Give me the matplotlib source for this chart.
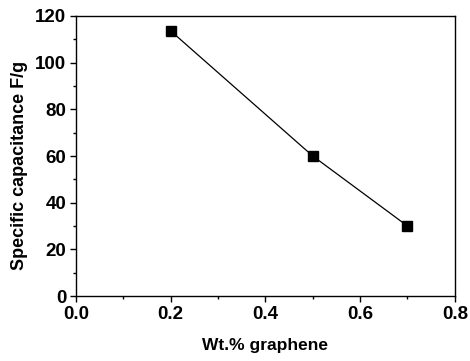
import matplotlib.pyplot as plt
from matplotlib.ticker import MultipleLocator

plt.rcParams['font.family'] = ['Liberation Sans', 'DejaVu Sans']
plt.rcParams['font.weight'] = 'bold'

# data
wt_graphene = [0.2, 0.5, 0.7]
capacitance = [113.6, 60.0, 30.0]

fig = plt.figure(figsize=(4.7, 3.61), dpi=100)
ax = fig.add_axes([0.1617, 0.18, 0.806, 0.7757])

ax.plot(wt_graphene, capacitance, color='black', linewidth=0.9,
        marker='s', markersize=6.5, markerfacecolor='black', markeredgecolor='black')

ax.set_xlim(0.0, 0.8)
ax.set_ylim(0, 120)
ax.xaxis.set_major_locator(MultipleLocator(0.2))
ax.xaxis.set_minor_locator(MultipleLocator(0.1))
ax.yaxis.set_major_locator(MultipleLocator(20))
ax.yaxis.set_minor_locator(MultipleLocator(10))
ax.xaxis.set_major_formatter(plt.FormatStrFormatter('%.1f'))

ax.tick_params(which='both', direction='out', top=False, right=False, width=1, labelsize=13.5)
ax.tick_params(which='major', length=4, pad=3)
ax.tick_params(which='minor', length=2.5)
for sp in ax.spines.values():
    sp.set_linewidth(1)

ax.set_xlabel('Wt.% graphene', fontsize=12.5, fontweight='bold', labelpad=11)
ax.set_ylabel('Specific capacitance F/g', fontsize=13, fontweight='bold')
# label sits a little below the axes centre in the reference
ax.yaxis.set_label_coords(-0.128, 0.468)

fig.savefig('out.png', dpi=100)
